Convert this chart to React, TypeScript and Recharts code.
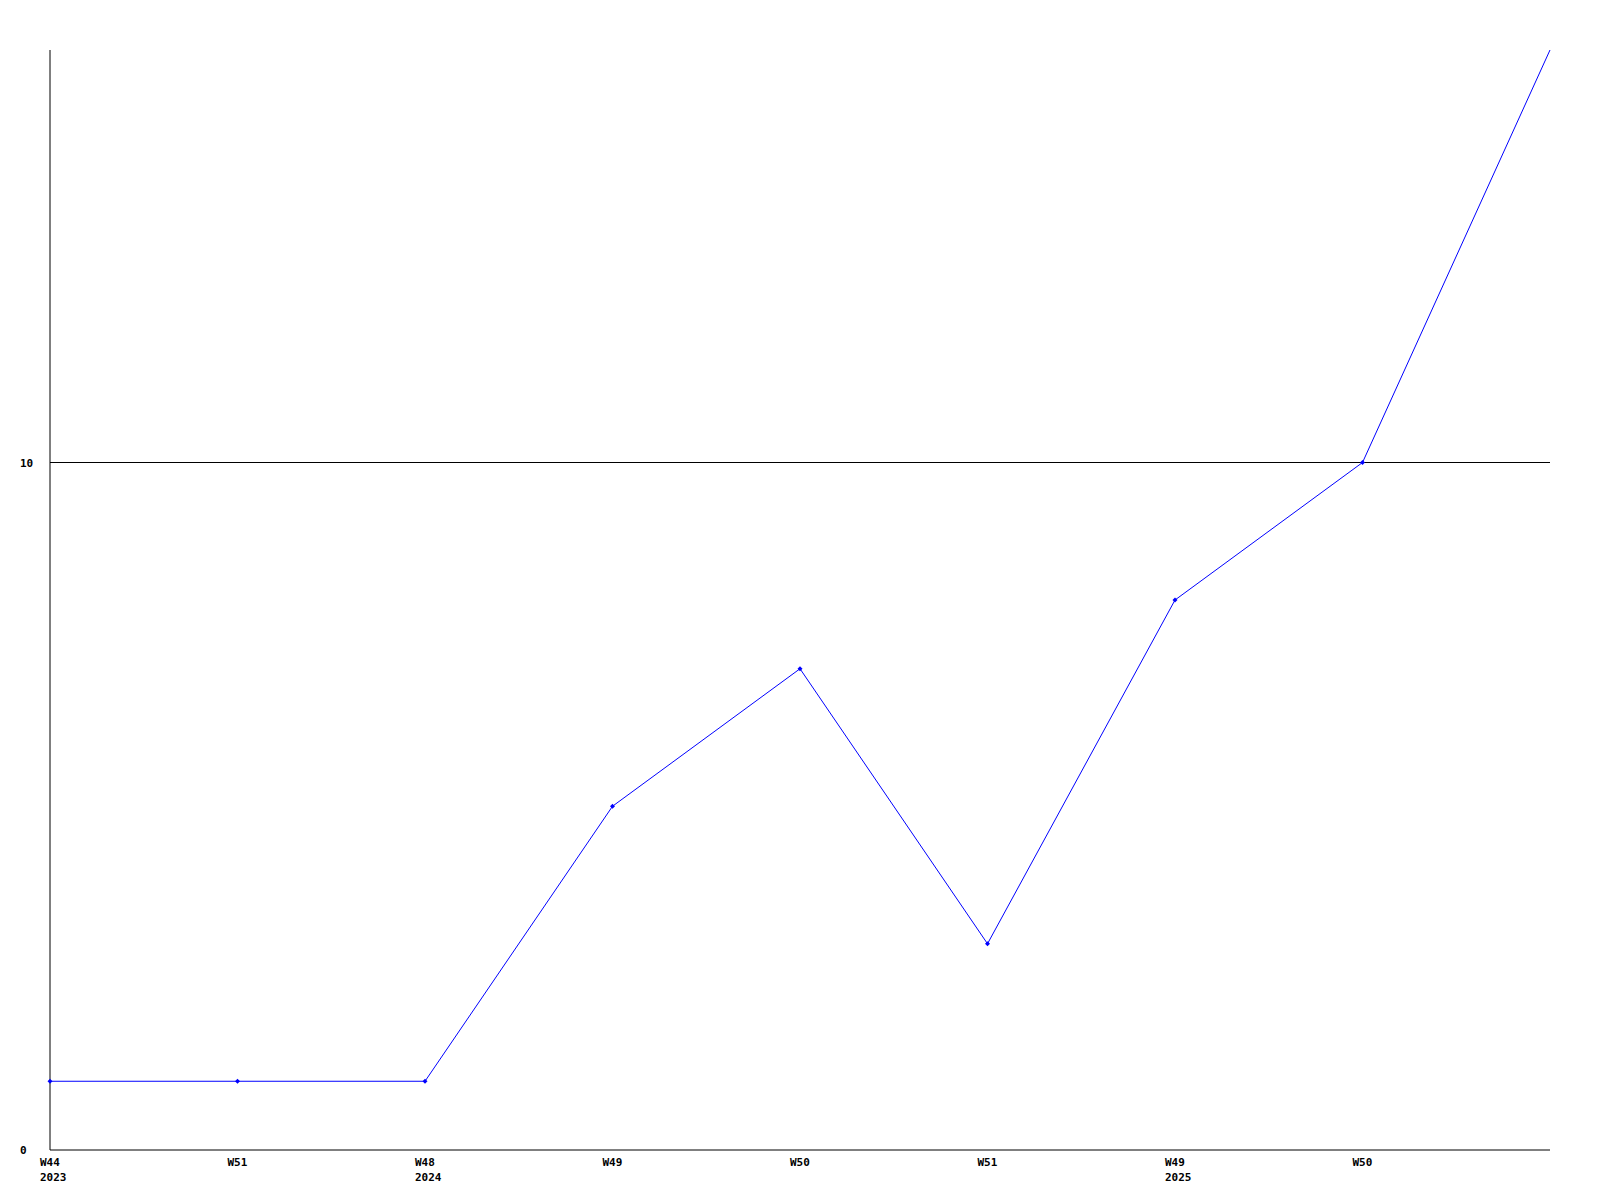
import React from "react";
import { LineChart, Line, XAxis, YAxis, ReferenceLine } from "recharts";

const weeks = ["W44", "W51", "W48", "W49", "W50", "W51", "W49", "W50", ""];
const years = ["2023", "", "2024", "", "", "", "2025", "", ""];
const values = [1, 1, 1, 5, 7, 3, 8, 10, 16];
const yTicks = [0, 10];

const data = values.map((v, i) => ({ key: `k${i}`, week: weeks[i], year: years[i], value: v }));

const FONT = "'DejaVu Sans Mono', monospace";

const XTick = (props: any) => {
  const { x, y, payload } = props;
  const i = payload.index;
  return (
    <g>
      <text x={x - 10} y={y + 16} textAnchor="start" fontFamily={FONT} fontWeight="bold" fontSize={11} fill="#000">
        {weeks[i]}
      </text>
      {years[i] ? (
        <text x={x - 10} y={y + 31} textAnchor="start" fontFamily={FONT} fontWeight="bold" fontSize={11} fill="#000">
          {years[i]}
        </text>
      ) : null}
    </g>
  );
};

const YTick = (props: any) => {
  const { y, payload } = props;
  return (
    <text x={20} y={y + 4} textAnchor="start" fontFamily={FONT} fontWeight="bold" fontSize={11} fill="#000">
      {payload.value}
    </text>
  );
};

const Dot = (props: any) => {
  const { cx, cy, index } = props;
  if (index === values.length - 1) return <g key={`d${index}`} />;
  return (
    <path
      key={`d${index}`}
      d={`M${cx - 2.5},${cy} L${cx},${cy - 2.5} L${cx + 2.5},${cy} L${cx},${cy + 2.5} Z`}
      fill="#0000ff"
      stroke="none"
    />
  );
};

export default function App() {
  return (
    <div style={{ position: "absolute", left: 0, top: 0, width: 1600, height: 1200, background: "#fff" }}>
      <LineChart width={1600} height={1200} data={data} margin={{ top: 50, right: 50, bottom: 0, left: 0 }}>
        <XAxis
          dataKey="key"
          height={50}
          axisLine={{ stroke: "#000", strokeWidth: 1 }}
          tickLine={false}
          tickSize={0}
          tickMargin={0}
          tick={<XTick />}
          interval={0}
        />
        <YAxis
          width={50}
          domain={[0, 16]}
          ticks={yTicks}
          axisLine={{ stroke: "#000", strokeWidth: 1 }}
          tickLine={false}
          tickSize={0}
          tickMargin={0}
          tick={<YTick />}
          allowDataOverflow
        />
        <ReferenceLine y={10} stroke="#000" strokeWidth={1} />
        <Line
          type="linear"
          dataKey="value"
          stroke="#0000ff"
          strokeWidth={1}
          dot={<Dot />}
          activeDot={false}
          isAnimationActive={false}
        />
      </LineChart>
    </div>
  );
}
